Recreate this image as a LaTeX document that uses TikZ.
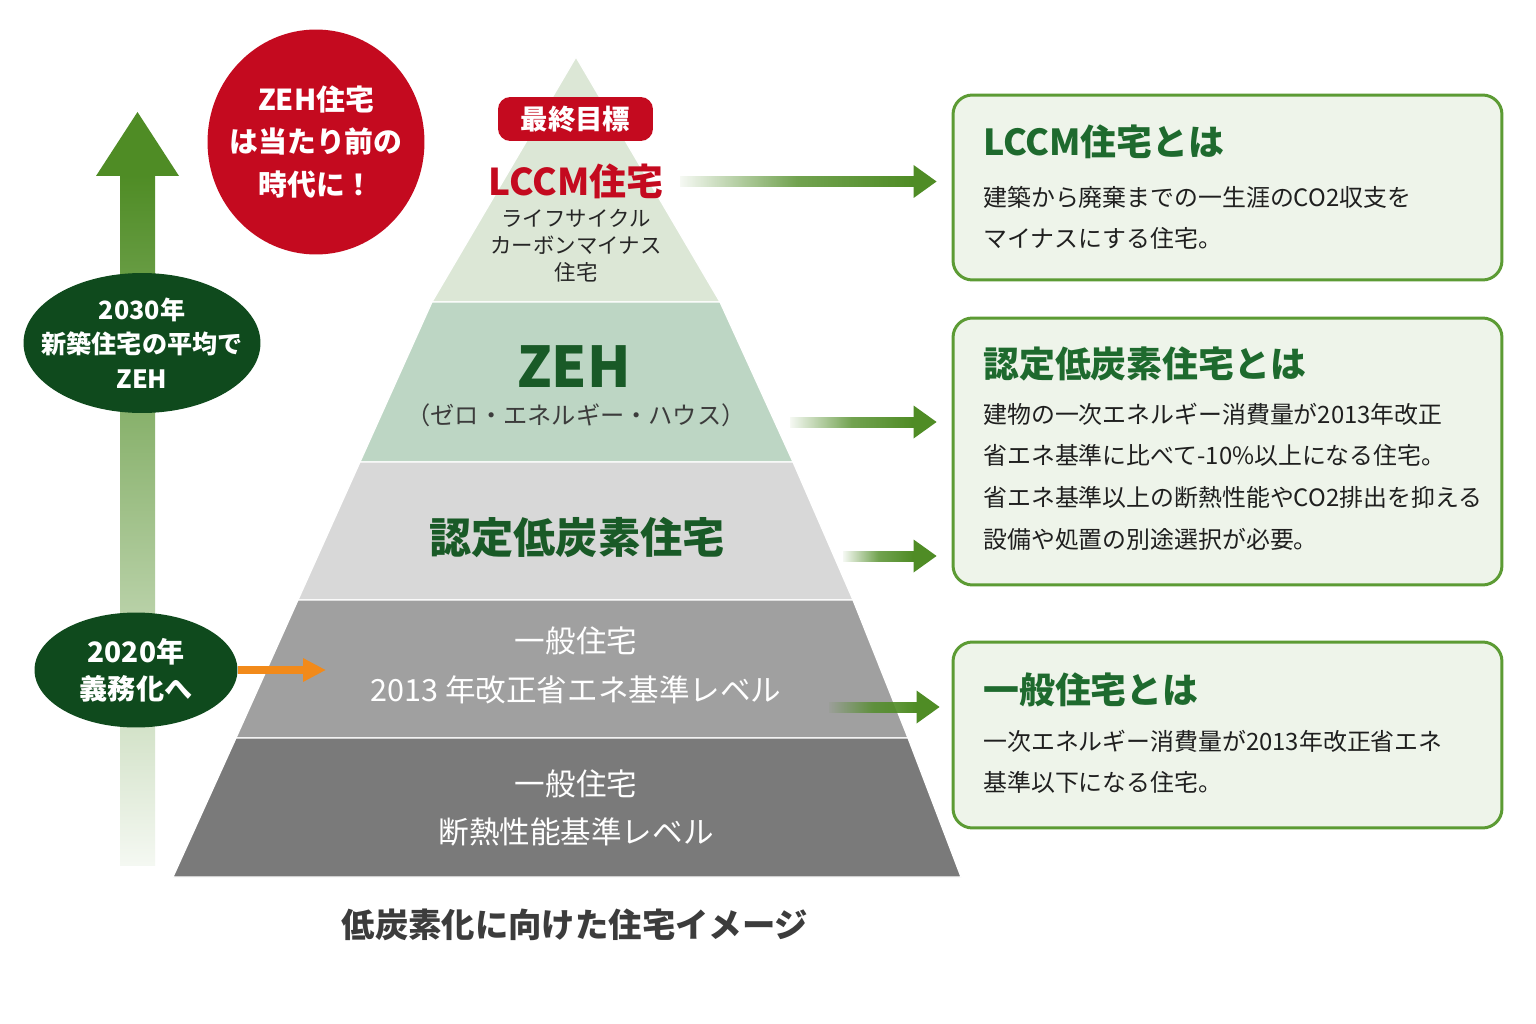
\documentclass[tikz,border=0pt]{standalone}
\usepackage{fontspec}
\setmainfont{Noto Sans CJK JP}
\usetikzlibrary{shapes.geometric, arrows.meta, calc, fadings}

\definecolor{pyrtop}{HTML}{DCE7D6}
\definecolor{pyrzeh}{HTML}{BDD6C4}
\definecolor{pyrlow}{HTML}{D8D8D8}
\definecolor{pyrgen}{HTML}{A0A0A0}
\definecolor{pyrbase}{HTML}{7A7A7A}
\definecolor{leafgreen}{HTML}{4F8C25}
\definecolor{deepgreen}{HTML}{0F4A1D}
\definecolor{titlegreen}{HTML}{1E6A2E}
\definecolor{boxfill}{HTML}{EEF4EA}
\definecolor{boxline}{HTML}{5C9B34}
\definecolor{alertred}{HTML}{C40A1F}
\definecolor{signorange}{HTML}{F28A1A}
\definecolor{inkgray}{HTML}{3C3C3C}

\tikzfading[name=fade-in, left color=transparent!95, right color=transparent!0, middle color=transparent!20]

\tikzset{
  info box/.style={draw=boxline, line width=1.7pt, fill=boxfill, rounded corners=11pt, minimum width=10.98cm, inner sep=0pt},
  info title/.style={anchor=west, inner sep=0pt, text=titlegreen, font=\fontsize{20.4pt}{24pt}\selectfont\bfseries},
  info text/.style={anchor=west, inner sep=0pt, text=black!88, font=\fontsize{13.6pt}{17pt}\selectfont},
  year oval/.style={ellipse, fill=deepgreen, inner sep=0pt},
  oval text/.style={text=white, align=center, inner sep=0pt},
  band label/.style={text=white, inner sep=0pt, font=\fontsize{17.4pt}{20pt}\selectfont},
}

% block arrow from #1 to tip #2 (same height)
\newcommand{\greenarrow}[2]{%
  \fill[leafgreen, path fading=fade-in] ($(#1)+(0,-5.5)$) rectangle ($(#2)+(-23,5.5)$);
  \fill[leafgreen] ($(#2)+(-23,-16.5)$) -- (#2) -- ($(#2)+(-23,16.5)$) -- cycle;}

\begin{document}
\begin{tikzpicture}[x=0.02cm, y=-0.02cm]

        \useasboundingbox (0,0) rectangle (1536,1024);
        \fill[white] (0,0) rectangle (1536,1024);

        % timeline arrow
        \shade[top color=leafgreen, bottom color=leafgreen!6] (120,175) rectangle (155,865);
        \fill[leafgreen] (96,176) -- (137.5,112) -- (179,176) -- cycle;

        % pyramid
        \foreach \ya/\yb/\la/\ra/\lb/\rb/\c in {57/302/576/576/432/720/pyrtop,
            302/462/432/720/360/793/pyrzeh, 462/600/360/793/298/853/pyrlow,
            600/738/298/853/236/908/pyrgen, 738/877/236/908/173/961/pyrbase}
          \filldraw[fill=\c, draw=white, line width=0.7pt] (\la,\ya) -- (\ra,\ya) -- (\rb,\yb) -- (\lb,\yb) -- cycle;

        \node[fill=alertred, rounded corners=7pt, minimum width=3.1cm, minimum height=0.88cm,
              text=white, font=\fontsize{15.6pt}{18pt}\selectfont\bfseries] (goal) at (575.5,119) {最終目標};
        \node[text=alertred, inner sep=0pt, font=\fontsize{21pt}{24pt}\selectfont\bfseries] (lccm-label) at (576,181) {LCCM住宅};
        \node[align=center, inner sep=0pt, text=black!85, font=\fontsize{12.2pt}{15.3pt}\selectfont] (lccm-sub) at (576,246)
          {ライフサイクル\\カーボンマイナス\\住宅};
        \node[text=titlegreen!85!black, inner sep=0pt, font=\fontsize{32pt}{36pt}\selectfont\bfseries] (zeh-label) at (574,367) {ZEH};
        \node[text=inkgray, inner sep=0pt, font=\fontsize{13.8pt}{16pt}\selectfont] (zeh-sub) at (576,415) {（ゼロ・エネルギー・ハウス）};
        \node[text=titlegreen!85!black, inner sep=0pt, font=\fontsize{24pt}{28pt}\selectfont\bfseries] (nintei-label) at (577,538) {認定低炭素住宅};
        \foreach \t/\y [count=\i] in {一般住宅/641, 2013 年改正省エネ基準レベル/690, 一般住宅/784, 断熱性能基準レベル/832}
          \node[band label] (ippan-\i) at (576,\y) {\t};

        \node[text=inkgray, inner sep=0pt, font=\fontsize{19pt}{22pt}\selectfont\bfseries] (caption) at (575,925) {低炭素化に向けた住宅イメージ};

        % left badges
        \node[ellipse, fill=alertred, minimum width=4.34cm, minimum height=4.5cm] (badge) at (316,142) {};
        \node[oval text, font=\fontsize{16.4pt}{24.4pt}\selectfont\bfseries] (badge-text) at (badge) {ZEH住宅\\は当たり前の\\時代に！};

        \node[year oval, minimum width=4.74cm, minimum height=2.8cm] (y2030) at (142,343) {};
        \node[oval text, font=\fontsize{14.3pt}{19.8pt}\selectfont\bfseries] (y2030-text) at (y2030) {2030年\\新築住宅の平均で\\ZEH};

        \node[year oval, minimum width=4.06cm, minimum height=2.3cm] (y2020) at (136,670) {};
        \node[oval text, font=\fontsize{16pt}{21pt}\selectfont\bfseries] (y2020-text) at (y2020) {2020年\\義務化へ};

        \coordinate (o-tip) at (326,670);
        \draw[signorange, line width=5.1pt, -{Triangle[length=13pt, width=12.5pt]}] (y2020.east) -- (o-tip);

        % info boxes
        \node[info box, minimum height=3.7cm] (lccm-box) at (1227.5,187.5) {};
        \node[info box, minimum height=5.34cm] (nintei-box) at (1227.5,451.5) {};
        \node[info box, minimum height=3.72cm] (ippan-box) at (1227.5,735) {};

        \node[info title] (lccm-title) at (983,142) {LCCM住宅とは};
        \foreach \t [count=\i] in {建築から廃棄までの一生涯のCO2収支を, マイナスにする住宅。}
          \node[info text] (lccm-text-\i) at (983,{156+41*\i}) {\t};

        \node[info title] (nintei-title) at (983,364) {認定低炭素住宅とは};
        \foreach \t [count=\i] in {建物の一次エネルギー消費量が2013年改正, 省エネ基準に比べて-10\%以上になる住宅。,
            省エネ基準以上の断熱性能やCO2排出を抑える, 設備や処置の別途選択が必要。}
          \node[info text] (nintei-text-\i) at (983,{372.3+41.7*\i}) {\t};

        \node[info title] (ippan-title) at (983,690) {一般住宅とは};
        \foreach \t [count=\i] in {一次エネルギー消費量が2013年改正省エネ, 基準以下になる住宅。}
          \node[info text] (ippan-text-\i) at (983,{700+41*\i}) {\t};

        % pointers to the boxes
        \coordinate (s1) at (680,181.5);
        \coordinate (s2) at (790,422);
        \coordinate (s3) at (843,556);
        \coordinate (s4) at (829,707);
        \coordinate (t1) at ($(lccm-box.west |- s1)+(-15,0)$);
        \coordinate (t2) at ($(nintei-box.west |- s2)+(-15,0)$);
        \coordinate (t3) at ($(nintei-box.west |- s3)+(-15,0)$);
        \coordinate (t4) at ($(ippan-box.west |- s4)+(-12,0)$);
        \foreach \i in {1,...,4}
          \greenarrow{s\i}{t\i};

\end{tikzpicture}
\end{document}
